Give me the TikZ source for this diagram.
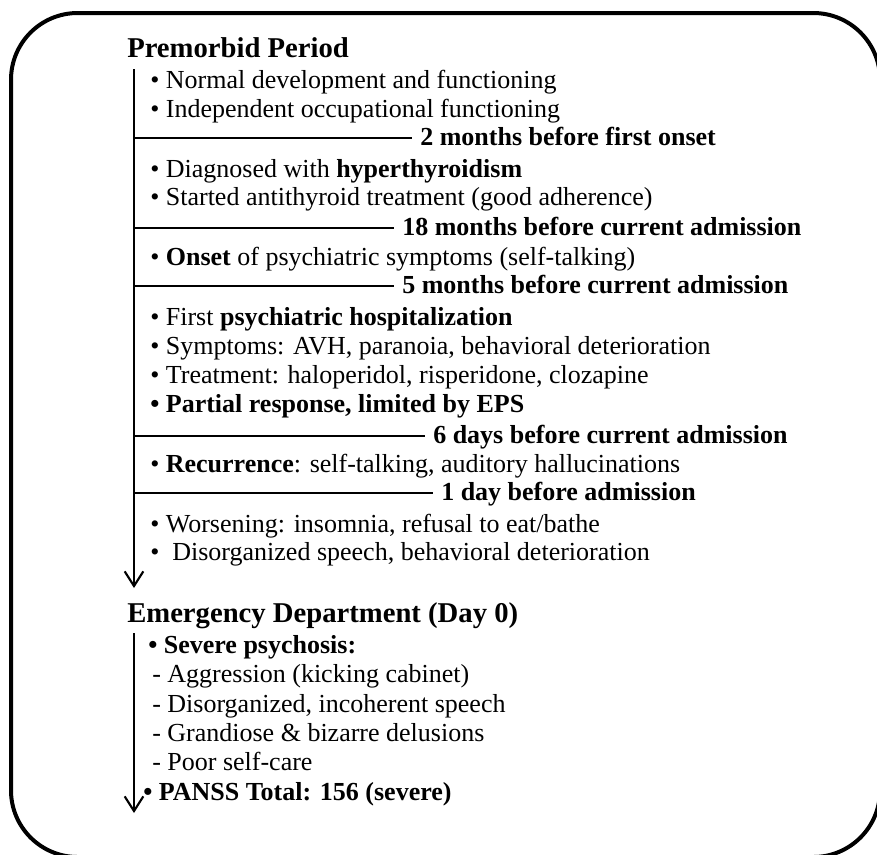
\documentclass[tikz,border=0pt]{standalone}
\usepackage{fontspec}
\setmainfont{Liberation Serif}
\usetikzlibrary{arrows.meta}
\tikzstyle{body}=[anchor=base west,inner sep=0pt,font=\fontsize{19.5}{23}\selectfont]
\tikzstyle{head}=[anchor=base west,inner sep=0pt,font=\fontsize{21.5}{26}\selectfont\bfseries]
\tikzstyle{when}=[anchor=base west,inner sep=0pt,font=\fontsize{19.5}{23}\selectfont\bfseries]
\tikzstyle{none}=[inner sep=0pt,minimum size=0pt]
\tikzstyle{axis}=[line width=1.6pt,-{Straight Barb[length=11pt,width=14pt]}]
\tikzstyle{tick}=[line width=1.6pt,shorten >=6pt]

\begin{document}
\begin{tikzpicture}[x=0.75pt, y=-0.75pt]
    \useasboundingbox (0, 0) rectangle (877, 854);
    \draw [line width=3pt, rounded corners=50pt] (11, 13) rectangle (880, 857);
    % premorbid period
    \node [style=head] (0) at (127, 57) {Premorbid Period};
    \node [style=none] (1) at (134, 69) {};
    \node [style=body] (2) at (150, 88) {• Normal development and functioning};
    \node [style=body] (3) at (150, 117) {• Independent occupational functioning};
    \node [style=none] (4) at (134, 138) {};
    \node [style=when] (5) at (420, 145) {2 months before first onset};
    \node [style=body] (6) at (150, 177) {• Diagnosed with \textbf{hyperthyroidism}};
    \node [style=body] (7) at (150, 205) {• Started antithyroid treatment (good adherence)};
    \node [style=none] (8) at (134, 228) {};
    \node [style=when] (9) at (402, 235) {18 months before current admission};
    \node [style=body] (10) at (150, 265) {• \textbf{Onset} of psychiatric symptoms (self-talking)};
    \node [style=none] (11) at (134, 286) {};
    \node [style=when] (12) at (402, 293) {5 months before current admission};
    \node [style=body] (13) at (150, 325) {• First \textbf{psychiatric hospitalization}};
    \node [style=body] (14) at (150, 354) {• Symptoms: AVH, paranoia, behavioral deterioration};
    \node [style=body] (15) at (150, 383) {• Treatment: haloperidol, risperidone, clozapine};
    \node [style=body] (16) at (150, 412) {\textbf{• Partial response, limited by EPS}};
    \node [style=none] (17) at (134, 436) {};
    \node [style=when] (18) at (433, 443) {6 days before current admission};
    \node [style=body] (19) at (150, 472) {• \textbf{Recurrence}: self-talking, auditory hallucinations};
    \node [style=none] (20) at (134, 493) {};
    \node [style=when] (21) at (441, 500) {1 day before admission};
    \node [style=body] (22) at (150, 532) {• Worsening: insomnia, refusal to eat/bathe};
    \node [style=body] (23) at (150, 560) {•\ \ Disorganized speech, behavioral deterioration};
    \node [style=none] (24) at (134, 588) {};
    % emergency department
    \node [style=head] (25) at (127, 622) {Emergency Department (Day 0)};
    \node [style=none] (26) at (134, 633) {};
    \node [style=body] (27) at (148, 653) {\textbf{• Severe psychosis:}};
    \node [style=body] (28) at (152, 682) {- Aggression (kicking cabinet)};
    \node [style=body] (29) at (152, 712) {- Disorganized, incoherent speech};
    \node [style=body] (30) at (152, 741) {- Grandiose \& bizarre delusions};
    \node [style=body] (31) at (152, 770) {- Poor self-care};
    \node [style=body] (32) at (143, 800) {\textbf{• PANSS Total: 156 (severe)}};
    \node [style=none] (33) at (134, 813) {};
    \draw [style=axis] (1.center) to (24.center);
    \draw [style=tick] (4.center) to (4.center -| 5.west);
    \draw [style=tick] (8.center) to (8.center -| 9.west);
    \draw [style=tick] (11.center) to (11.center -| 12.west);
    \draw [style=tick] (17.center) to (17.center -| 18.west);
    \draw [style=tick] (20.center) to (20.center -| 21.west);
    \draw [style=axis] (26.center) to (33.center);
\end{tikzpicture}
\end{document}
